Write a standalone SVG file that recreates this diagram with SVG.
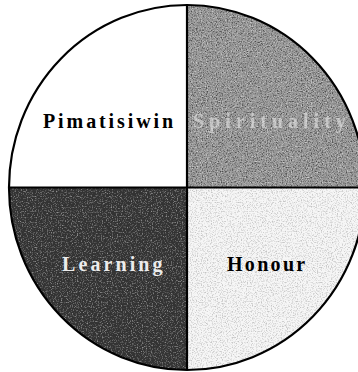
<svg xmlns="http://www.w3.org/2000/svg" width="358" height="372" viewBox="0 0 358 372">
  <defs>
    <clipPath id="circ"><ellipse cx="187" cy="187.5" rx="178" ry="182.5"/></clipPath>
    <filter id="noise" x="0" y="0" width="100%" height="100%">
      <feTurbulence type="fractalNoise" baseFrequency="0.8" numOctaves="2" seed="3"/>
      <feColorMatrix type="matrix" values="0 0 0 0 0  0 0 0 0 0  0 0 0 0 0  0 0 0 -3 1.6"/>
    </filter>
    <filter id="noiseW" x="0" y="0" width="100%" height="100%">
      <feTurbulence type="fractalNoise" baseFrequency="0.8" numOctaves="2" seed="7"/>
      <feColorMatrix type="matrix" values="0 0 0 0 1  0 0 0 0 1  0 0 0 0 1  0 0 0 3 -1.5"/>
    </filter>
  </defs>
  <style>
    .lbl { font-family: "Liberation Serif", "Times New Roman", serif; font-weight: bold; font-size: 20px; }
    .q { stroke: none; }
    .div { stroke: #000; stroke-width: 2.2; fill: none; }
  </style>
  <rect width="358" height="372" fill="#fff"/>
  <g clip-path="url(#circ)">
    <g id="pimatisiwin">
      <rect class="q" x="0" y="0" width="187" height="187.5" fill="#ffffff"/>
    </g>
    <g id="spirituality">
      <rect class="q" x="187" y="0" width="180" height="187.5" fill="#9a9a9a"/>
      <rect x="187" y="0" width="180" height="187.5" filter="url(#noise)" opacity="0.5"/>
      <rect x="187" y="0" width="180" height="187.5" filter="url(#noiseW)" opacity="0.5"/>
    </g>
    <g id="learning">
      <rect class="q" x="0" y="187.5" width="187" height="190" fill="#333333"/>
      <rect x="0" y="187.5" width="187" height="190" filter="url(#noiseW)" opacity="0.45"/>
    </g>
    <g id="honour">
      <rect class="q" x="187" y="187.5" width="180" height="190" fill="#f6f6f6"/>
      <rect x="187" y="187.5" width="180" height="190" filter="url(#noise)" opacity="0.2"/>
    </g>
  </g>
  <g id="connectors">
    <line class="div" x1="187" y1="5" x2="187" y2="370"/>
    <line class="div" x1="9" y1="187.5" x2="365" y2="187.5"/>
    <ellipse class="div" cx="187" cy="187.5" rx="178" ry="182.5"/>
  </g>
  <g id="labels">
    <text class="lbl" x="43" y="128" fill="#000" letter-spacing="2.9">Pimatisiwin</text>
    <text class="lbl" x="193" y="128" fill="#e6e6e6" opacity="0.6" letter-spacing="5">Spirituality</text>
    <text class="lbl" x="62" y="271" fill="#ececec" letter-spacing="3.1">Learning</text>
    <text class="lbl" x="227" y="271" fill="#000" letter-spacing="2.3">Honour</text>
  </g>
</svg>
